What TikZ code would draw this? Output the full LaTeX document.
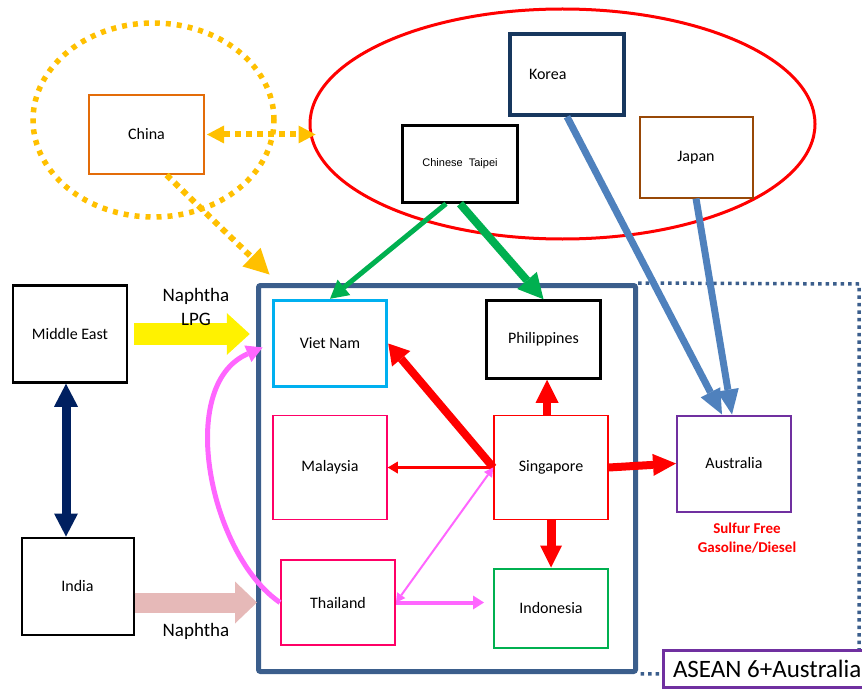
\documentclass[tikz,border=0pt]{standalone}
\usepackage{fontspec}
\setmainfont{Carlito}
\newfontfamily\taipeifont{Liberation Sans}
\usetikzlibrary{arrows.meta}
\usetikzlibrary{positioning}
\usetikzlibrary{shapes.geometric}
\definecolor{aseanblue}{RGB}{59,94,140}
\definecolor{koreanavy}{RGB}{23,55,94}
\definecolor{chinaorange}{RGB}{227,108,9}
\definecolor{japanbrown}{RGB}{152,72,7}
\definecolor{vncyan}{RGB}{0,176,240}
\definecolor{mypink}{RGB}{255,0,102}
\definecolor{mygreen}{RGB}{0,176,80}
\definecolor{mypurple}{RGB}{112,48,160}
\definecolor{dotyellow}{RGB}{255,192,0}
\definecolor{steelblue}{RGB}{79,129,189}
\definecolor{flowpink}{RGB}{255,102,255}
\definecolor{rosy}{RGB}{230,185,184}
\definecolor{darknavy}{RGB}{0,32,96}
\tikzset{cbox/.style = {draw, rectangle, inner sep = 0, line width = 2pt,
                        minimum width = 114pt, minimum height = 80pt,
                        font = \fontsize{16}{19}\selectfont}}
\tikzset{dots/.style = {dotyellow, line width = 6pt, dash pattern = on 6pt off 5pt}}
\tikzset{headed/.style 2 args = {arrows = {-Triangle[length = #1, width = #2, line width = 0pt]}}}
\tikzset{twoheaded/.style 2 args = {arrows = {Triangle[length = #1, width = #2, line width = 0pt]-Triangle[length = #1, width = #2, line width = 0pt]}}}

\begin{document}
\begin{tikzpicture}[x = 1pt, y = -1pt]
      \useasboundingbox (0, 0) rectangle (862, 690);

      % groups
      \node (chinazone) at (153.5, 120) [ellipse, draw = dotyellow, inner sep = 0, line width = 5.5pt, dash pattern = on 5pt off 6pt, minimum width = 241pt, minimum height = 194pt] {};
      \node (eastasia) at (562.5, 124) [ellipse, draw = red, inner sep = 0, line width = 3pt, minimum width = 505pt, minimum height = 230pt] {};
      \node (asean) at (447, 478.5) [draw = aseanblue, line width = 5pt, rounded corners = 2pt, minimum width = 377pt, minimum height = 386pt] {};
      \draw [aseanblue, line width = 3.5pt, dash pattern = on 3.5pt off 4pt] (asean.north east) -- (859, 284) -- (859, 673) -- (asean.south east);

      % economies
      \node (china) at (146.5, 134.5) [cbox, draw = chinaorange, minimum width = 115pt, minimum height = 79pt] {China};
      \node (korea) at (567, 74.5) [cbox, draw = koreanavy, line width = 3.5pt, minimum height = 81pt, text width = 76pt, align = left] {Korea};
      \node (taipei) at (460, 164) [cbox, line width = 2.5pt, minimum width = 115pt, minimum height = 77pt, font = \taipeifont\fontsize{11}{13}\selectfont] {Chinese\ \ Taipei};
      \node (japan) at (696, 157.5) [cbox, draw = japanbrown, minimum width = 113pt] {Japan};
      \node (mideast) at (70, 334) [cbox, line width = 2.5pt, minimum height = 97pt] {Middle East};
      \node (india) at (77.5, 586) [cbox, minimum width = 112pt, minimum height = 97pt] {India};
      \node (vietnam) at (330, 343.5) [cbox, draw = vncyan, line width = 3.5pt, minimum width = 113pt, minimum height = 86pt] {Viet Nam};
      \node (phil) at (543.5, 339.5) [cbox, line width = 2.5pt, minimum height = 78pt] {Philippines};
      \node (malaysia) at (330, 467.5) [cbox, draw = mypink, line width = 1.5pt, minimum height = 104pt] {Malaysia};
      \node (sing) at (551, 467.5) [cbox, draw = red, line width = 1.5pt, minimum height = 104pt] {Singapore};
      \node (australia) at (734, 463.5) [cbox, draw = mypurple, minimum height = 96pt] {Australia};
      \node (thai) at (338, 602.5) [cbox, draw = mypink, minimum height = 85pt] {Thailand};
      \node (indo) at (551, 608) [cbox, draw = mygreen, minimum height = 79pt] {Indonesia};

      % flows into ASEAN
      \draw [headed = {23pt}{42pt}, yellow, line width = 22pt, shorten <= 6pt, shorten >= 22pt] (mideast.east) -- (mideast.east -| vietnam.west);
      \draw [headed = {22pt}{42pt}, rosy, line width = 20pt, shorten >= 23pt] (india.east |- thai.west) -- (thai.west);
      \draw [twoheaded = {23pt}{24pt}, darknavy, line width = 9pt] ([xshift = -4pt]mideast.south) -- ([xshift = -11.5pt]india.north);
      \draw [twoheaded = {17pt}{18pt}, dots, shorten <= 2pt, shorten >= -7pt] (china.east) -- (china.east -| eastasia.west);
      \draw [headed = {25pt}{26pt}, dots] ([xshift = 20pt]china.south) -- ([xshift = 13.5pt, yshift = 8.5pt]asean.north west);
      \draw [headed = {18pt}{20pt}, mygreen, line width = 5pt] ([xshift = -14pt]taipei.south) -- (vietnam.north);
      \draw [headed = {25pt}{26pt}, mygreen, line width = 8pt] (taipei.south) -- (phil.north);
      \draw [headed = {25pt}{22pt}, steelblue, line width = 7pt] (korea.south) -- ([xshift = -12pt]australia.north);
      \draw [headed = {25pt}{22pt}, steelblue, line width = 7pt] (japan.south) -- ([xshift = -2pt]australia.north);

      % flows out of Singapore
      \draw [headed = {20pt}{24pt}, red, line width = 8pt] (sing.west) -- (vietnam.east);
      \draw [headed = {10pt}{12pt}, red, line width = 3pt] (sing.west) -- (malaysia.east);
      \draw [headed = {23pt}{23pt}, red, line width = 8pt] ([xshift = -4pt]sing.north) -- ([xshift = 3.5pt]phil.south);
      \draw [headed = {22pt}{22pt}, red, line width = 9pt] (sing.south) -- (indo.north);
      \draw [headed = {23pt}{22pt}, red, line width = 8pt] (sing.east) -- (australia.west);

      % Thailand
      \draw [headed = {16pt}{18pt}, flowpink, line width = 5pt, shorten >= 10pt] (thai.west) .. controls (210, 555) and (175, 385) .. (vietnam.west);
      \draw [twoheaded = {9pt}{10pt}, flowpink, line width = 2pt] (sing.west) -- (thai.east);
      \draw [headed = {11pt}{14pt}, flowpink, line width = 4pt, shorten >= 9pt] (thai.east) -- (thai.east -| indo.west);

      % labels
      \node (products) at (196, 307) [align = center, font = \fontsize{19}{24}\selectfont] {Naphtha\\LPG};
      \node (naphtha) at (196, 631) [font = \fontsize{19}{24}\selectfont] {Naphtha};
      \node (sulfur) at (747, 538.5) [align = center, text = red, font = \bfseries\fontsize{15}{19}\selectfont] {Sulfur Free\\Gasoline/Diesel};
      \node (aseanlabel) at (661.5, 669) [anchor = west, draw = mypurple, line width = 3pt, fill = white, minimum height = 37pt, inner xsep = 10pt, font = \fontsize{25}{30}\selectfont] {ASEAN 6+Australia};
    \end{tikzpicture}
\end{document}
